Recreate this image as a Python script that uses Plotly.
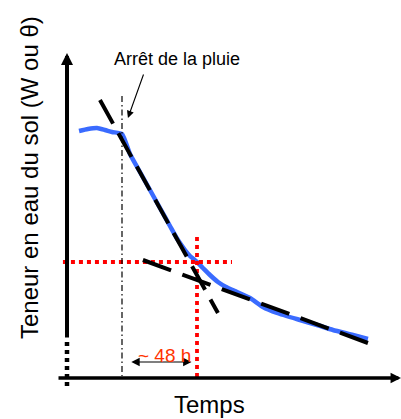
import plotly.graph_objects as go

# Soil water content after the end of rainfall (schematic)
# time in hours relative to the end of rain, water content in arbitrary % units
time_h = [-27.5, -21.8, -16.0, -10.9, -6.4, 0.0, 5.1, 11.5, 17.9, 24.3, 30.7, 35.0,
          37.1, 40.3, 43.5, 48.0, 51.8, 56.3, 61.4, 66.6, 72.3, 81.9, 90.2, 99.2, 113.9,
          124.8, 135.0, 147.8, 157.4]
theta = [24.7, 24.9, 25.0, 24.8, 24.6, 24.4, 22.4, 20.6, 18.8, 17.0, 15.2, 14.0,
         13.5, 12.8, 12.2, 11.6, 11.0, 10.3, 9.6, 9.1, 8.7, 8.0, 7.1, 6.5, 5.8,
         5.3, 4.8, 4.3, 3.9]

# fast drainage tangent and slow drainage tangent
fast_t = [-14.1, 61.4]
fast_theta = [27.8, 6.5]
slow_t = [13.4, 157.4]
slow_theta = [11.8, 3.5]

# field capacity reading: time and water content
fc_time = 48.0
fc_theta = 11.6
fc_h_span = [-37.8, 70.4]
fc_v_span = [14.1, 0.0]

rain_stop_t = 0.0
rain_stop_span = [28.2, 0.2]

# axes of the schematic
y_axis_t = -35.2
y_axis_span = [3.9, 32.5]
y_axis_break = [3.6, -1.1]
x_axis_span = [-41.6, 178.6]

font = "Liberation Sans, Arial, sans-serif"

fig = go.Figure()

fig.add_trace(go.Scatter(x=time_h, y=theta, mode="lines",
                         line=dict(color="#3A6BFF", width=4.5, shape="spline", smoothing=0.5),
                         hoverinfo="skip"))

fig.add_trace(go.Scatter(x=fc_h_span, y=[fc_theta, fc_theta], mode="lines",
                         line=dict(color="#FF0000", width=3.8, dash="4px,4px"), hoverinfo="skip"))
fig.add_trace(go.Scatter(x=[fc_time, fc_time], y=fc_v_span, mode="lines",
                         line=dict(color="#FF0000", width=3.8, dash="4px,4px"), hoverinfo="skip"))

fig.add_trace(go.Scatter(x=fast_t, y=fast_theta, mode="lines",
                         line=dict(color="black", width=4, dash="27px,11px"), hoverinfo="skip"))
fig.add_trace(go.Scatter(x=slow_t, y=slow_theta, mode="lines",
                         line=dict(color="black", width=4, dash="30px,12px"), hoverinfo="skip"))

fig.add_trace(go.Scatter(x=[rain_stop_t, rain_stop_t], y=rain_stop_span, mode="lines",
                         line=dict(color="black", width=1.2, dash="6px,3px,1.5px,3px"),
                         hoverinfo="skip"))

# broken lower part of the vertical axis
fig.add_trace(go.Scatter(x=[y_axis_t, y_axis_t], y=y_axis_break, mode="lines",
                         line=dict(color="black", width=4.5, dash="4px,4px"), hoverinfo="skip"))

annotations = [
    # vertical axis with arrow
    dict(x=y_axis_t, y=y_axis_span[1], ax=y_axis_t, ay=y_axis_span[0],
         xref="x", yref="y", axref="x", ayref="y", text="", showarrow=True,
         arrowhead=2, arrowsize=0.6, arrowwidth=4, arrowcolor="black"),
    # horizontal axis with arrow
    dict(x=x_axis_span[1], y=0, ax=x_axis_span[0], ay=0,
         xref="x", yref="y", axref="x", ayref="y", text="", showarrow=True,
         arrowhead=2, arrowsize=0.6, arrowwidth=3.5, arrowcolor="black"),
    # end of rain pointer
    dict(x=3.8, y=26.0, ax=14.1, ay=30.5,
         xref="x", yref="y", axref="x", ayref="y", text="", showarrow=True,
         arrowhead=2, arrowsize=1.3, arrowwidth=1.1, arrowcolor="black"),
    dict(x=35.5, y=31.9, xref="x", yref="y", text="Arrêt de la pluie", showarrow=False,
         font=dict(family=font, size=18, color="black")),
    # 48 h double arrow
    dict(x=fc_time - 3.5, y=1.6, ax=rain_stop_t + 5.0, ay=1.6,
         xref="x", yref="y", axref="x", ayref="y", text="", showarrow=True,
         arrowhead=2, arrowsize=1.4, arrowwidth=1.2, arrowcolor="black",
         arrowside="end+start", startarrowhead=2, startarrowsize=1.4),
    dict(x=27.5, y=2.25, xref="x", yref="y", text="~ 48 h", showarrow=False,
         font=dict(family=font, size=19, color="#FF3300")),
    # axis titles
    dict(x=56.3, y=-2.6, xref="x", yref="y", text="Temps", showarrow=False,
         font=dict(family=font, size=24, color="black")),
    dict(x=-59.5, y=20.0, xref="x", yref="y", text="Teneur en eau du sol (W ou θ)",
         textangle=-90, showarrow=False, font=dict(family=font, size=24, color="black")),
]

fig.update_layout(
    width=401, height=419,
    margin=dict(l=0, r=0, t=0, b=0),
    paper_bgcolor="white", plot_bgcolor="white",
    showlegend=False,
    xaxis=dict(range=[-78.08, 178.56], visible=False, fixedrange=True),
    yaxis=dict(range=[-4.1, 37.8], visible=False, fixedrange=True),
    annotations=annotations,
)

fig.write_html("out.html", config={"displayModeBar": False})
